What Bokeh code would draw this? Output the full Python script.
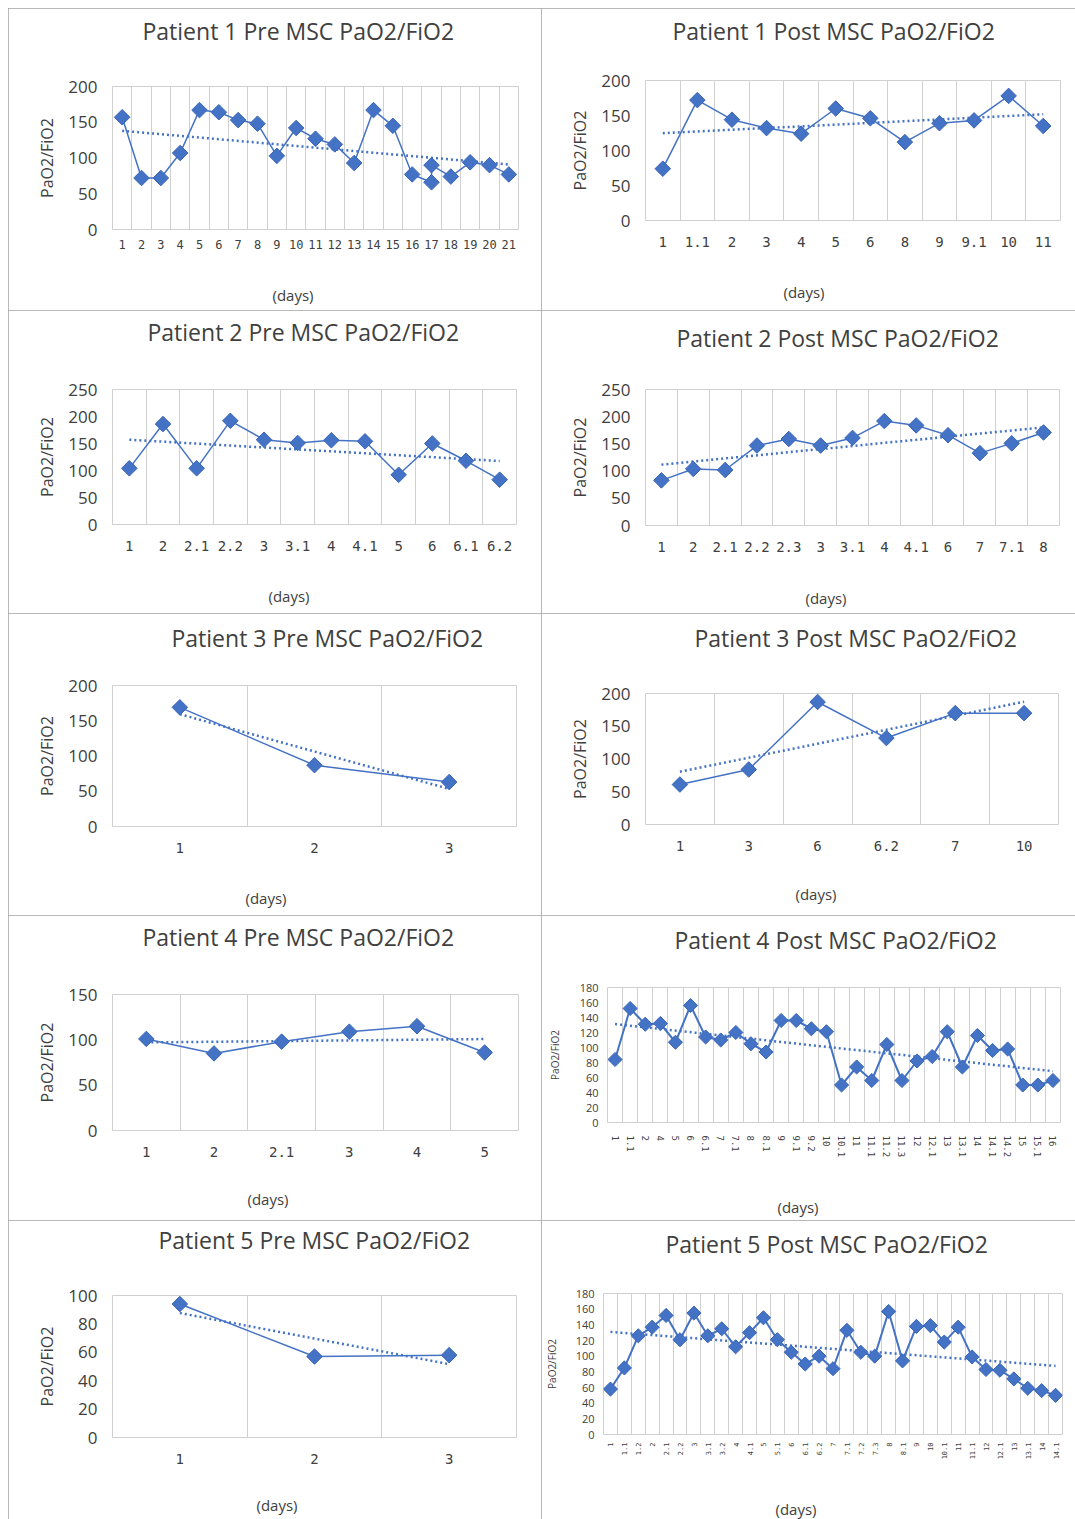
import numpy as np
from bokeh.plotting import figure
from bokeh.layouts import row, column
from bokeh.models import FixedTicker, Range1d, Title
from bokeh.embed import file_html
from bokeh.resources import INLINE

BLUE = "#4472C4"
TXT = "#404040"

# ---------------- data ----------------
p1_pre_days = ["1", "2", "3", "4", "5", "6", "7", "8", "9", "10", "11", "12", "13",
               "14", "15", "16", "17", "17", "18", "19", "20", "21"]
p1_pre_vals = [157, 72, 72, 107, 167, 164, 153, 148, 103, 142, 127, 119, 93,
               167, 145, 77, 66, 90, 74, 94, 90, 77]

p1_post_days = ["1", "1.1", "2", "3", "4", "5", "6", "8", "9", "9.1", "10", "11"]
p1_post_vals = [74, 172, 144, 132, 124, 160, 146, 112, 139, 143, 178, 135]

p2_pre_days = ["1", "2", "2.1", "2.2", "3", "3.1", "4", "4.1", "5", "6", "6.1", "6.2"]
p2_pre_vals = [104, 186, 104, 192, 157, 151, 156, 154, 92, 150, 118, 83]

p2_post_days = ["1", "2", "2.1", "2.2", "2.3", "3", "3.1", "4", "4.1", "6", "7", "7.1", "8"]
p2_post_vals = [83, 104, 102, 147, 159, 147, 161, 192, 184, 166, 133, 151, 171]

p3_pre_days = ["1", "2", "3"]
p3_pre_vals = [169, 87, 63]

p3_post_days = ["1", "3", "6", "6.2", "7", "10"]
p3_post_vals = [61, 84, 187, 132, 170, 170]

p4_pre_days = ["1", "2", "2.1", "3", "4", "5"]
p4_pre_vals = [101, 85, 98, 109, 115, 86]

p4_post_days = ["1", "1.1", "2", "4", "5", "6", "6.1", "7", "7.1", "8", "8.1", "9", "9.1",
                "9.2", "10", "10.1", "11", "11.1", "11.2", "11.3", "12", "12.1", "13",
                "13.1", "14", "14.1", "14.2", "15", "15.1", "16"]
p4_post_vals = [84, 152, 131, 132, 107, 156, 114, 110, 120, 105, 94, 136, 136,
                125, 121, 50, 74, 56, 104, 56, 82, 88, 121,
                74, 116, 96, 98, 50, 50, 56]

p5_pre_days = ["1", "2", "3"]
p5_pre_vals = [94, 57, 58]

p5_post_days = ["1", "1.1", "1.2", "2", "2.1", "2.2", "3", "3.1", "3.2", "4", "4.1", "5",
                "5.1", "6", "6.1", "6.2", "7", "7.1", "7.2", "7.3", "8", "8.1", "9", "10",
                "10.1", "11", "11.1", "12", "12.1", "13", "13.1", "14", "14.1"]
p5_post_vals = [58, 85, 126, 137, 152, 121, 155, 126, 135, 112, 130, 149,
                121, 105, 90, 100, 84, 133, 105, 100, 157, 94, 138, 139,
                118, 137, 99, 83, 82, 71, 59, 56, 50]

titles = ["Patient  1 Pre MSC PaO2/FiO2", "Patient  1 Post MSC PaO2/FiO2",
          "Patient  2 Pre MSC PaO2/FiO2", "Patient  2 Post MSC PaO2/FiO2",
          "Patient  3 Pre MSC PaO2/FiO2", "Patient  3 Post MSC PaO2/FiO2",
          "Patient  4 Pre MSC PaO2/FiO2", "Patient  4 Post MSC PaO2/FiO2",
          "Patient  5 Pre MSC PaO2/FiO2", "Patient  5 Post MSC PaO2/FiO2"]
x_title = "(days)"
y_title = "PaO2/FiO2"


def spacer_title(k):
    return Title(text=" ", text_font_size="1px", standoff=max(k, 0))


def panel(title, days, vals, yend, ystep, w, h, fl, fr, ft, fb, t_left, t_y, dpos,
          big=True, orient=None, xfs="14px", msize=11, lw=1.5, yl_so=7, xl_so=16, axis_h=33):
    cats = list(dict.fromkeys(days))
    xs = [cats.index(d) for d in days]
    n = len(cats)
    p = figure(width=w, height=h, x_range=Range1d(-0.5, n - 0.5), y_range=Range1d(0, yend),
               output_backend="svg", toolbar_location=None,
               min_border_left=fl, min_border_right=fr, min_border_top=ft, min_border_bottom=fb)
    try:
        p.frame_align = False
    except Exception:
        pass

    # title (outer) with a spacer between it and the plot area
    p.title = Title(text=title, align="left", vertical_align="middle",
                    offset=t_left - fl - 1, standoff=0,
                    text_font="Open Sans", text_font_size="23px",
                    text_font_style="normal", text_color=TXT)
    p.add_layout(spacer_title(int(round(ft - t_y - 19.5))), "above")

    p.outline_line_color = "#D0D0D0"
    p.background_fill_color = "white"
    p.border_fill_color = "white"
    p.ygrid.visible = False
    p.xgrid.ticker = FixedTicker(ticks=[i + 0.5 for i in range(n - 1)])
    p.xgrid.grid_line_color = "#D0D0D0"

    p.xaxis.ticker = FixedTicker(ticks=list(range(n)))
    p.xaxis.major_label_overrides = {i: c for i, c in enumerate(cats)}
    p.yaxis.ticker = FixedTicker(ticks=list(range(0, yend + 1, ystep)))
    for ax in (p.xaxis[0], p.yaxis[0]):
        ax.axis_line_color = None
        ax.major_tick_line_color = None
        ax.minor_tick_line_color = None
        ax.major_tick_out = 0
        ax.major_label_text_color = TXT
        ax.axis_label_text_color = TXT
        ax.axis_label_text_font = "Open Sans"
        ax.axis_label_text_font_style = "normal"
    p.xaxis.major_label_text_font = "DejaVu Sans Mono"
    p.xaxis.major_label_text_font_size = xfs
    p.xaxis.major_label_standoff = xl_so
    p.yaxis.major_label_text_font = "Open Sans"
    p.yaxis.axis_label = y_title
    p.yaxis.axis_label_standoff = yl_so
    if big:
        p.yaxis.major_label_text_font_size = "17px"
        p.yaxis.axis_label_text_font_size = "16px"
        p.yaxis.major_label_standoff = 15
    else:
        p.yaxis.major_label_text_font_size = "11px"
        p.yaxis.axis_label_text_font_size = "10px"
        p.yaxis.major_label_standoff = 9
    if orient is not None:
        p.xaxis.major_label_orientation = orient

    # "(days)" caption below the category axis
    dx, dy = dpos
    off = dy - (h - fb)
    p.add_layout(spacer_title(int(round(off - axis_h - 14))), "below")
    p.add_layout(Title(text=x_title, align="left", vertical_align="middle",
                       offset=dx - 22 - fl - 1, standoff=0,
                       text_font="Open Sans", text_font_size="15px",
                       text_font_style="normal", text_color=TXT), "below")

    # trend line (least squares over category positions)
    xa = np.array(xs, dtype=float)
    ya = np.array(vals, dtype=float)
    k, b = np.polyfit(xa, ya, 1)
    tx = [xa.min(), xa.max()]
    p.line(tx, [k * t + b for t in tx], line_color=BLUE, line_width=2.5, line_dash="2 3")
    p.line(xs, vals, line_color=BLUE, line_width=lw)
    p.scatter(xs, vals, marker="square", angle=np.pi / 4, size=msize,
              fill_color=BLUE, line_color="#3A66B8", line_width=1)
    p.styles = {"outline": "1px solid #A0A0A0", "outline-offset": "-1px"}
    return p


W0, W1 = 533, 534
H = [302, 303, 302, 305, 299]

f1 = panel(titles[0], p1_pre_days, p1_pre_vals, 200, 50, W0, H[0], 104, 23, 78, 81, 135, 23, (287, 289),
           xfs="12px", xl_so=10, axis_h=25)
f2 = panel(titles[1], p1_post_days, p1_post_vals, 200, 50, W1, H[0], 104, 15, 72, 90, 132, 22, (265, 287))
f3 = panel(titles[2], p2_pre_days, p2_pre_vals, 250, 50, W0, H[1], 104, 25, 79, 89, 140, 22, (283, 289))
f4 = panel(titles[3], p2_post_days, p2_post_vals, 250, 50, W1, H[1], 104, 16, 79, 88, 136, 27, (287, 291))
f5 = panel(titles[4], p3_pre_days, p3_pre_vals, 200, 50, W0, H[2], 104, 25, 72, 89, 164, 24, (260, 288))
f6 = panel(titles[5], p3_post_days, p3_post_vals, 200, 50, W1, H[2], 104, 17, 80, 91, 154, 24, (277, 284))
f7 = panel(titles[6], p4_pre_days, p4_pre_vals, 150, 50, W0, H[3], 104, 23, 79, 90, 135, 21, (262, 287))
f8 = panel(titles[7], p4_post_days, p4_post_vals, 180, 20, W1, H[3], 66, 15, 72, 98, 134, 24, (259, 288),
           big=False, orient=-np.pi / 2, xfs="9px", msize=10, lw=2, yl_so=15, xl_so=13, axis_h=35)
f9 = panel(titles[8], p5_pre_days, p5_pre_vals, 100, 20, W0, H[4], 104, 25, 75, 82, 151, 19, (271, 288))
f10 = panel(titles[9], p5_post_days, p5_post_vals, 180, 20, W1, H[4], 59, 13, 73, 82, 122, 23, (254, 288),
            big=False, orient=np.pi / 2, xfs="7px", msize=10, lw=2, yl_so=14, xl_so=8, axis_h=25)

layout = column(row(f1, f2), row(f3, f4), row(f5, f6), row(f7, f8), row(f9, f10))
layout.styles = {"margin-left": "8px", "margin-top": "8px"}

open("out.html", "w").write(file_html(layout, INLINE))
